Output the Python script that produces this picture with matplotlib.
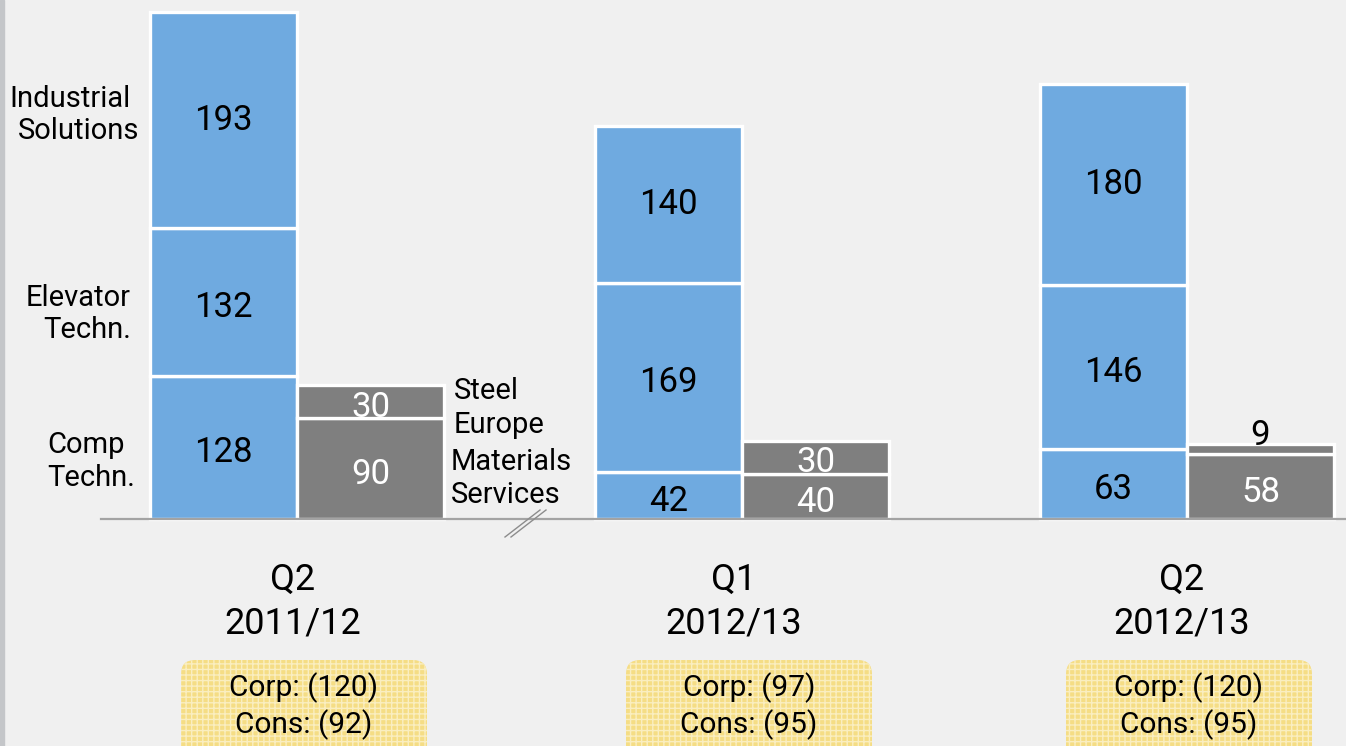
import matplotlib.pyplot as plt
from matplotlib.patches import FancyBboxPatch, Rectangle
from matplotlib.lines import Line2D

plt.rcParams['font.family'] = ['Roboto', 'DejaVu Sans']

periods = ["Q2", "Q1", "Q2"]
years = ["2011/12", "2012/13", "2012/13"]
comp_techn = [128, 42, 63]
elevator_techn = [132, 169, 146]
industrial_solutions = [193, 140, 180]
materials_services = [90, 40, 58]
steel_europe = [30, 30, 9]
corp = ["(120)", "(97)", "(120)"]
cons = ["(92)", "(95)", "(95)"]

BG = '#f0f0f0'
BLUE = '#6faae0'
GRAY = '#7f7f7f'

W, H = 1346, 746
fig = plt.figure(figsize=(W / 100, H / 100), dpi=100)
fig.patch.set_facecolor(BG)
ax = fig.add_axes([0, 0, 1, 1])
ax.set_facecolor(BG)
ax.axis('off')

px_per_unit = 1.119
base_px = 519
group_px = 445
ax.set_ylim(-(H - base_px) / px_per_unit, base_px / px_per_unit)
ax.set_xlim(-297 / group_px, (W - 297) / group_px)

bw = 147 / group_px
off = bw / 2
low_shift = 5.5 / px_per_unit  # lower segment labels sit slightly below centre


def ftxt(x, y, s, **kw):
    return fig.text(x / W, 1 - y / H, s, **kw)


n = len(periods)
for i in range(n):
    xb = i - off
    xg = i + off
    bottom = 0
    segs = [comp_techn[i], elevator_techn[i], industrial_solutions[i]]
    for k, val in enumerate(segs):
        ax.bar(xb, val, width=bw, bottom=bottom, color=BLUE, edgecolor='white',
               linewidth=2.4, zorder=2)
        yc = bottom + val / 2 - (low_shift if k < len(segs) - 1 else 0)
        ax.text(xb, yc, str(val), ha='center', va='center',
                fontsize=25, color='black', zorder=4)
        bottom += val
    bottom = 0
    for j, val in enumerate([materials_services[i], steel_europe[i]]):
        ax.bar(xg, val, width=bw, bottom=bottom, color=GRAY, edgecolor='white',
               linewidth=2.4, zorder=2)
        if val < 15:
            ax.text(xg, bottom + val - 0.5, str(val), ha='center', va='baseline',
                    fontsize=25, color='black', zorder=4)
        else:
            ax.text(xg, bottom + val / 2 - low_shift, str(val), ha='center',
                    va='center', fontsize=25, color='white', zorder=4)
        bottom += val

# baseline
ax.axhline(0, xmin=101 / W, xmax=1, color='#a3a3a3', lw=1.6, zorder=5)

# left strip
fig.add_artist(Rectangle((0, 0), 4 / W, 1, transform=fig.transFigure,
                         color='#c4c6c9', zorder=10))

# break mark
for dx in (0, 6):
    fig.add_artist(Line2D([(505 + dx) / W, (540 + dx) / W],
                          [1 - 537 / H, 1 - 510 / H], transform=fig.transFigure,
                          color='#8c8c8c', lw=1.0, zorder=10))

# segment labels
lab_kw = dict(fontsize=21, color='black', va='baseline')
ftxt(131, 107, "Industrial", ha='right', **lab_kw)
ftxt(139, 139, "Solutions", ha='right', **lab_kw)
ftxt(131, 306, "Elevator", ha='right', **lab_kw)
ftxt(131, 338, "Techn.", ha='right', **lab_kw)
ftxt(47, 453, "Comp", ha='left', **lab_kw)
ftxt(47, 486, "Techn.", ha='left', **lab_kw)
ftxt(454, 399, "Steel", ha='left', **lab_kw)
ftxt(454, 433, "Europe", ha='left', **lab_kw)
ftxt(451, 470, "Materials", ha='left', **lab_kw)
ftxt(451, 503, "Services", ha='left', **lab_kw)

# category labels and boxes
group_centers_px = [293, 734, 1182]
box_left_px = [181, 626, 1066]
for i in range(n):
    ftxt(group_centers_px[i], 590, periods[i], ha='center', va='baseline', fontsize=26)
    ftxt(group_centers_px[i], 633, years[i], ha='center', va='baseline', fontsize=26)
    bx = box_left_px[i]
    box = FancyBboxPatch((bx, -20), 246, 106,
                         boxstyle='round,pad=0,rounding_size=14',
                         transform=None, facecolor='#f5dd85', edgecolor='#faeec0',
                         linewidth=0, hatch='+++', zorder=6)
    fig.add_artist(box)
    cx = bx + 123
    ftxt(cx, 688, "Corp: " + corp[i], ha='center', va='center', fontsize=21.5, zorder=7)
    ftxt(cx, 725, "Cons: " + cons[i], ha='center', va='center', fontsize=21.5, zorder=7)

fig.savefig('out.png', dpi=100, facecolor=BG)
